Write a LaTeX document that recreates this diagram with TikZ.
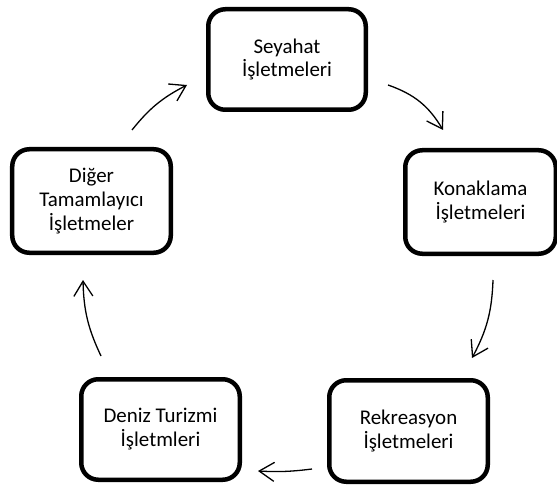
\documentclass[tikz,border=0pt]{standalone}
\usepackage{fontspec}
\setmainfont{Carlito}
\usetikzlibrary{arrows.meta}
\begin{document}
\begin{tikzpicture}[x=1bp,y=-1bp,
  cbox/.style={draw=black, line width=4.5bp, rounded corners=17bp, fill=white,
    align=center, inner sep=0pt,
    font=\fontsize{21}{24}\selectfont},
  flow/.style={line width=1.3bp, -{Straight Barb[length=15bp,width=19bp,line width=1.3bp]}}]
\useasboundingbox (0,0) rectangle (557,486);
\fill[white] (0,0) rectangle (557,486);
\node[cbox, minimum width=157.5bp, minimum height=100.5bp] (sey) at (287,59.5) {Seyahat\\İşletmeleri};
\node[cbox, minimum width=150.5bp, minimum height=103.5bp] (kon) at (480.5,202) {Konaklama\\İşletmeleri};
\node[cbox, minimum width=158.5bp, minimum height=101.5bp] (rek) at (408.5,431) {Rekreasyon\\İşletmeleri};
\node[cbox, minimum width=158.5bp, minimum height=100.5bp] (den) at (160.5,429.5) {Deniz Turizmi\\İşletmleri};
\node[cbox, minimum width=158.5bp, minimum height=103.5bp] (dig) at (91.5,201) {Diğer\\Tamamlayıcı\\İşletmeler};
\coordinate (a1s) at (388,85);  \coordinate (a1e) at (443,130);
\coordinate (a2s) at (493,280); \coordinate (a2e) at (472,358);
\coordinate (a3s) at (312,469); \coordinate (a3e) at (258,471);
\coordinate (a4s) at (101,356); \coordinate (a4e) at (83,280);
\coordinate (a5s) at (132,130); \coordinate (a5e) at (187,85);
\draw[flow] (a1s) to[bend left=20] (a1e);
\draw[flow] (a2s) to[bend left=13] (a2e);
\draw[flow] (a3s) to[bend left=5] (a3e);
\draw[flow] (a4s) to[bend left=12] (a4e);
\draw[flow] (a5s) to[bend left=12] (a5e);
\end{tikzpicture}
\end{document}
